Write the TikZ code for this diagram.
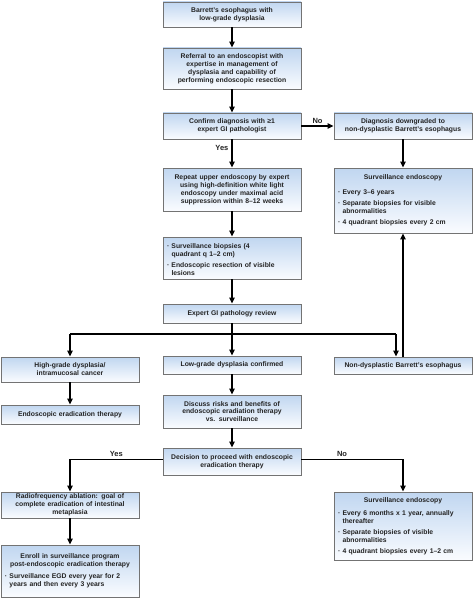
\documentclass[tikz,border=0pt]{standalone}
\usepackage{fontspec}
\setmainfont{Liberation Sans}
\usetikzlibrary{arrows.meta}
\definecolor{boxtop}{RGB}{192,214,240}
\definecolor{boxbot}{RGB}{250,252,255}
\definecolor{boxline}{RGB}{115,115,115}
\definecolor{txt}{RGB}{35,35,35}
\newcommand\bul[2][3pt]{\par\noindent\hangindent=4.5pt\hangafter=1\makebox[4.5pt][l]{·}#2\par\vspace{#1}}
\newcommand\ttl[1]{{\centering #1\par}}
\begin{document}
\begin{tikzpicture}[x=1pt,y=-1pt,
  box/.style={draw=boxline, line width=0.9pt, top color=boxtop, bottom color=boxbot,
    minimum width=138pt, text width=130pt, inner xsep=4pt, inner ysep=0.5pt,
    align=center, font=\fontsize{6.8}{7.9}\selectfont\bfseries, text=txt},
  lbox/.style={box, align=left, text width=130pt, inner xsep=4pt},
  arr/.style={line width=1.2pt, -{Triangle[length=6pt,width=5.5pt]}},
  ln/.style={line width=1.2pt},
  lab/.style={font=\fontsize{7.5}{8}\selectfont\bfseries, text=txt, inner sep=0pt}]
\fill[white] (0,0) rectangle (474,599);
\useasboundingbox (0,0) rectangle (474,599);

\node[box, minimum height=25pt] (b1) at (232,14.5) {Barrett’s esophagus with\\low-grade dysplasia};
\node[box, minimum height=41pt] (b2) at (232,68.5) {Referral to an endoscopist with\\expertise in management of\\dysplasia and capability of\\performing endoscopic resection};
\node[box, minimum height=26pt] (b3) at (232,126) {Confirm diagnosis with ≥1\\expert GI pathologist};
\node[box, minimum height=26pt] (dg) at (403,126) {Diagnosis downgraded to\\non-dysplastic Barrett’s esophagus};
\node[box, minimum height=43pt] (rep) at (232,189.5) {Repeat upper endoscopy by expert\\using high-definition white light\\endoscopy under maximal acid\\suppression within 8–12 weeks};
\node[lbox, minimum height=65pt] (sv1) at (403,200.5) {\ttl{Surveillance endoscopy}\vspace{7pt}\bul{Every 3–6 years}\bul{Separate biopsies for visible\newline abnormalities}\bul[0pt]{4 quadrant biopsies every 2 cm}};
\node[lbox, minimum height=42pt] (bio) at (232,258) {\bul{Surveillance biopsies (4\newline quadrant q 1–2 cm)}\bul[0pt]{Endoscopic resection of visible\newline lesions}};
\node[box, minimum height=19pt] (rev) at (232,313.5) {Expert GI pathology review};
\node[box, minimum height=25pt] (hgd) at (70,369.5) {High-grade dysplasia/\\intramucosal cancer};
\node[box, minimum height=18pt] (lgd) at (232,365) {Low-grade dysplasia confirmed};
\node[box, minimum height=17pt] (nd) at (403,365.5) {Non-dysplastic Barrett’s esophagus};
\node[box, minimum height=19pt] (eet) at (70,414.5) {Endoscopic eradication therapy};
\node[box, minimum height=33pt] (disc) at (232,411.5) {Discuss risks and benefits of\\endoscopic eradiation therapy\\vs. surveillance};
\node[box, minimum height=27pt] (dec) at (232,461.5) {Decision to proceed with endoscopic\\eradication therapy};
\node[box, minimum height=26pt] (rfa) at (70,505) {Radiofrequency ablation: goal of\\complete eradication of intestinal\\metaplasia};
\node[lbox, minimum height=52pt] (enr) at (70,571) {\ttl{Enroll in surveillance program\\post-endoscopic eradication therapy}\vspace{4pt}\bul[0pt]{Surveillance EGD every year for 2\newline years and then every 3 years}};
\node[lbox, minimum height=68pt] (sv2) at (403,526) {\ttl{Surveillance endoscopy}\vspace{6pt}\bul{Every 6 months x 1 year, annually\newline thereafter}\bul{Separate biopsies of visible\newline abnormalities}\bul[0pt]{4 quadrant biopsies every 1–2 cm}};

\coordinate (j) at (232,334);
\coordinate (jl) at (70,334);
\coordinate (jr) at (396,334);

\draw[arr] (b1) -- (b2);
\draw[arr] (b2) -- (b3);
\draw[arr] (b3) -- node[lab, above, yshift=2pt] (no1) {No} (dg);
\draw[arr] (b3) -- node[lab, left, xshift=-3pt, pos=0.3] (yes1) {Yes} (rep);
\draw[arr] (dg) -- (sv1);
\draw[arr] (rep) -- (bio);
\draw[arr] (bio) -- (rev);
\draw[ln] (rev.south) -- (j);
\draw[ln] (jl) -- (jr);
\draw[arr] (jl) -- (hgd.north);
\draw[arr] (j) -- (lgd.north);
\draw[arr] (jr) -- (jr |- nd.north);
\draw[arr] (nd.north) -- (sv1.south);
\draw[arr] (hgd) -- (eet);
\draw[arr] (lgd) -- (disc);
\draw[arr] (disc) -- (dec);
\draw[arr] ([yshift=2pt]dec.west) -| node[lab, above, pos=0.25, yshift=2pt] (yes2) {Yes} (rfa.north);
\draw[arr] ([yshift=2pt]dec.east) -| node[lab, above, pos=0.2, yshift=2pt] (no2) {No} (sv2.north);
\draw[arr] (rfa) -- (enr);
\end{tikzpicture}
\end{document}
